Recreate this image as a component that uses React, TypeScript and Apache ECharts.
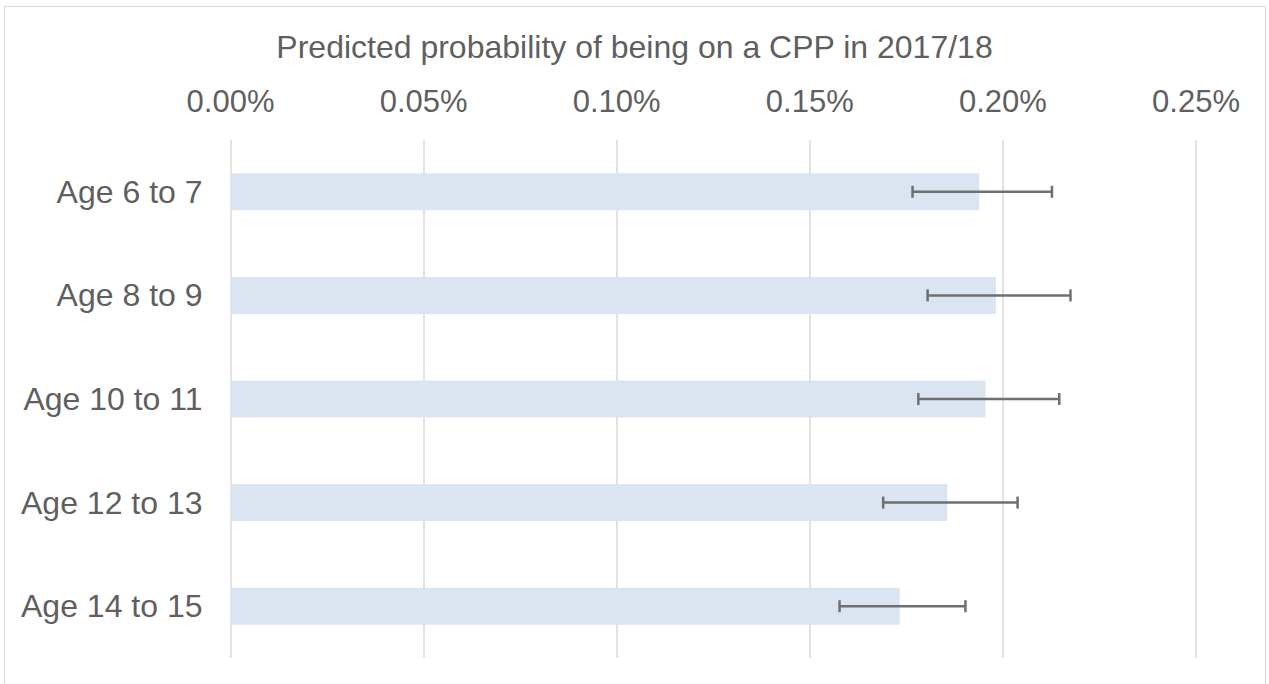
import React, { useEffect, useRef } from "react";
import * as echarts from "echarts";

const categories = ["Age 6 to 7", "Age 8 to 9", "Age 10 to 11", "Age 12 to 13", "Age 14 to 15"];
const predicted = [0.1939, 0.1982, 0.1955, 0.1856, 0.1733];
const lower = [0.1766, 0.1805, 0.1781, 0.169, 0.1577];
const upper = [0.2127, 0.2175, 0.2146, 0.2038, 0.1903];
const titleText = "Predicted probability of being on a CPP in 2017/18";

const TEXT = "#5f5f5f";
const FONT = "'Liberation Sans', Arial, sans-serif";

export default function App() {
  const ref = useRef<HTMLDivElement>(null);
  useEffect(() => {
    document.body.style.margin = "0";
    const chart = echarts.init(ref.current!, undefined, { renderer: "svg" });
    const errData = categories.map((_, i) => [i, lower[i], upper[i]]);
    chart.setOption({
      animation: false,
      backgroundColor: "#ffffff",
      textStyle: { fontFamily: FONT },
      graphic: [
        {
          type: "rect",
          shape: { x: 4.5, y: 6.5, width: 1261, height: 700 },
          style: { fill: "none", stroke: "#d9d9d9", lineWidth: 1 },
          silent: true,
        },
      ],
      title: {
        text: titleText,
        left: "center",
        top: 26,
        textStyle: { color: TEXT, fontSize: 32, fontWeight: "normal", fontFamily: FONT },
      },
      grid: { left: 230.5, right: 73, top: 140, bottom: 26, containLabel: false },
      xAxis: {
        type: "value",
        position: "top",
        min: 0,
        max: 0.25,
        interval: 0.05,
        axisLine: { show: false },
        axisTick: { show: false },
        axisLabel: {
          color: TEXT,
          fontSize: 31,
          fontFamily: FONT,
          margin: 23,
          formatter: (v: number) => v.toFixed(2) + "%",
        },
        splitLine: { show: true, lineStyle: { color: "#d9d9d9", width: 1.5 } },
      },
      yAxis: {
        type: "category",
        data: categories,
        inverse: true,
        axisLine: { show: false },
        axisTick: { show: false },
        axisLabel: { color: TEXT, fontSize: 32, fontFamily: FONT, margin: 28 },
        splitLine: { show: false },
      },
      series: [
        {
          type: "bar",
          data: predicted,
          barWidth: 37,
          itemStyle: { color: "#dbe4f1" },
          silent: true,
        },
        {
          type: "custom",
          data: errData,
          encode: { x: [1, 2], y: 0 },
          silent: true,
          z: 5,
          renderItem: (params: any, api: any) => {
            const idx = api.value(0);
            const lo = api.coord([api.value(1), idx]);
            const hi = api.coord([api.value(2), idx]);
            const h = 6;
            const style = { stroke: "#6f6f6f", lineWidth: 2.5, fill: "none" };
            return {
              type: "group",
              children: [
                { type: "line", shape: { x1: lo[0], y1: lo[1], x2: hi[0], y2: hi[1] }, style },
                { type: "line", shape: { x1: lo[0], y1: lo[1] - h, x2: lo[0], y2: lo[1] + h }, style },
                { type: "line", shape: { x1: hi[0], y1: hi[1] - h, x2: hi[0], y2: hi[1] + h }, style },
              ],
            };
          },
        },
      ],
    });
    return () => chart.dispose();
  }, []);
  return <div ref={ref} style={{ position: "fixed", left: 0, top: 0, width: 1269, height: 684 }} />;
}
